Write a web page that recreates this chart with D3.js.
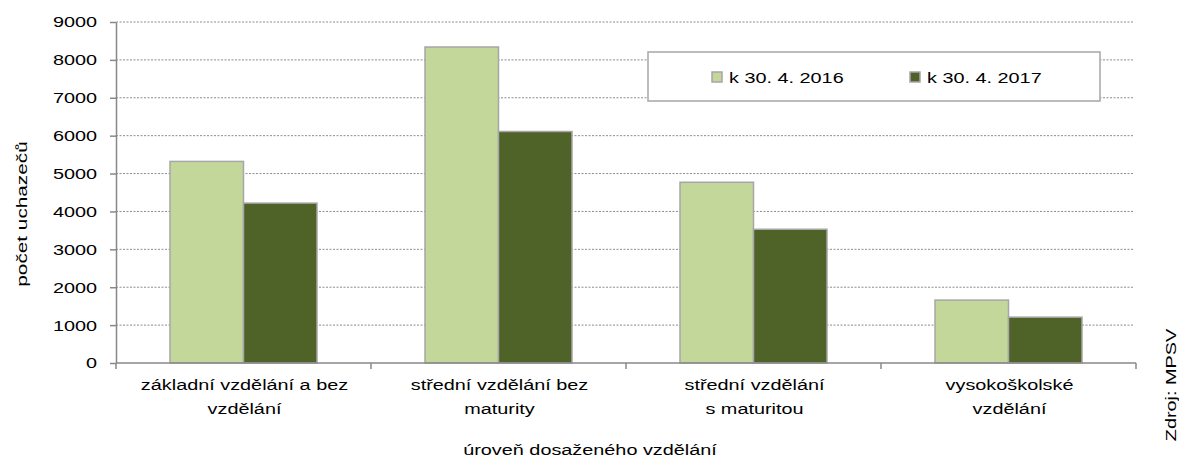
<!DOCTYPE html>
<html>
<head>
<meta charset="utf-8">
<script src="https://cdn.jsdelivr.net/npm/d3@7"></script>
<style>
body { margin: 0; background: #fff; }
text { font-family: "Liberation Sans", Arial, sans-serif; fill: #000; font-size: 15.5px; }
</style>
</head>
<body>
<div id="chart"></div>
<script>
const categories = [
  ["základní vzdělání a bez", "vzdělání"],
  ["střední vzdělání  bez", "maturity"],
  ["střední vzdělání", "s maturitou"],
  ["vysokoškolské", "vzdělání"]
];
const seriesNames = ["k 30. 4. 2016", "k 30. 4. 2017"];
const values2016 = [5320, 8340, 4770, 1660];
const values2017 = [4220, 6110, 3530, 1210];
const yTicks = [0, 1000, 2000, 3000, 4000, 5000, 6000, 7000, 8000, 9000];
const colors = ["#c4d79b", "#4f6228"];

// the source text is drawn wide, so stretch it horizontally
const sx = 1.28;

const margin = {top: 22, right: 43, bottom: 96, left: 116},
width = 1179 - margin.left - margin.right,
height = 459 - margin.top - margin.bottom;

const svg = d3.select("#chart")
.append("svg")
.attr("width", 1179)
.attr("height", 459)
.append("g")
.attr("transform", `translate(${margin.left},${margin.top})`);

const data = categories.map((c, i) => ({cat: i, vals: [values2016[i], values2017[i]]}));

// X axis
const x = d3.scaleBand()
  .domain(d3.range(categories.length))
  .range([0, width]);
const xs = d3.scaleBand()
  .domain([0, 1])
  .range([0, 147])
  .padding(0);

// Y axis
const y = d3.scaleLinear()
  .domain([0, 9000])
  .range([height, 0]);

// gridlines
svg.append("g")
  .selectAll("line")
  .data(yTicks.slice(1))
  .join("line")
    .attr("x1", 0)
    .attr("x2", width - 2)
    .attr("y1", d => y(d))
    .attr("y2", d => y(d))
    .attr("stroke", "#8c8c8c")
    .attr("stroke-width", 1)
    .attr("stroke-dasharray", "2,1.5");

// bars
const groups = svg.selectAll("g.grp")
  .data(data)
  .join("g")
  .attr("class", "grp")
  .attr("transform", d => `translate(${x(d.cat) + (x.bandwidth() - 147) / 2},0)`);
groups.selectAll("rect")
  .data(d => d.vals.map((v, k) => ({v, k})))
  .join("rect")
    .attr("x", d => xs(d.k))
    .attr("width", xs.bandwidth())
    .attr("y", d => y(d.v))
    .attr("height", d => height - y(d.v))
    .attr("fill", d => colors[d.k])
    .attr("stroke", "#a6a6a6")
    .attr("stroke-width", 1.5);

// left axis
const yAxis = svg.append("g")
  .call(d3.axisLeft(y).tickValues(yTicks).tickFormat(d3.format("d")).tickSize(6).tickSizeOuter(0).tickPadding(13));
yAxis.select(".domain").attr("stroke", "#888").attr("stroke-width", 1.5);
yAxis.selectAll(".tick line").attr("stroke", "#888").attr("stroke-width", 1.5);
yAxis.selectAll("text")
  .attr("font-family", "Liberation Sans, Arial, sans-serif")
  .attr("font-size", null)
  .attr("fill", "#000")
  .attr("x", -19 / sx)
  .attr("transform", `scale(${sx},1)`);

// bottom axis
const xAxis = svg.append("g")
  .attr("transform", `translate(0,${height})`);
xAxis.append("line")
  .attr("x1", 0).attr("x2", width)
  .attr("stroke", "#888").attr("stroke-width", 1.5);
xAxis.selectAll("line.tk")
  .data(d3.range(categories.length + 1))
  .join("line")
    .attr("class", "tk")
    .attr("x1", d => d === categories.length ? width : x(d))
    .attr("x2", d => d === categories.length ? width : x(d))
    .attr("y1", 0).attr("y2", 6)
    .attr("stroke", "#888").attr("stroke-width", 1.5);
const lbl = xAxis.selectAll("text.cat")
  .data(categories)
  .join("text")
    .attr("class", "cat")
    .attr("text-anchor", "middle")
    .attr("transform", (d, i) => `translate(${x(i) + x.bandwidth() / 2 + 1},27) scale(${sx},1)`);
lbl.selectAll("tspan")
  .data(d => d)
  .join("tspan")
    .attr("x", 0)
    .attr("dy", (d, i) => i === 0 ? 0 : 24)
    .text(d => d);

// axis titles
svg.append("text")
  .attr("text-anchor", "middle")
  .attr("transform", `translate(${590 - margin.left},${455 - margin.top}) scale(${sx},1)`)
  .text("úroveň dosaženého vzdělání");
svg.append("text")
  .attr("text-anchor", "middle")
  .attr("transform", `translate(${27 - margin.left},${214 - margin.top}) rotate(-90) scale(1.34,1)`)
  .text("počet uchazečů");
svg.append("text")
  .attr("text-anchor", "middle")
  .attr("transform", `translate(${1176 - margin.left},${385 - margin.top}) rotate(-90) scale(${sx},1)`)
  .text("Zdroj: MPSV");

// legend
const legend = svg.append("g")
  .attr("transform", `translate(${648 - margin.left},${52 - margin.top})`);
legend.append("rect")
  .attr("width", 452).attr("height", 49)
  .attr("fill", "#fff").attr("stroke", "#a6a6a6").attr("stroke-width", 1.5);
const items = legend.selectAll("g.item")
  .data(seriesNames)
  .join("g")
  .attr("class", "item")
  .attr("transform", (d, i) => `translate(${i === 0 ? 64 : 262},25)`);
items.append("rect")
  .attr("x", 0).attr("y", -5).attr("width", 10).attr("height", 10)
  .attr("fill", (d, i) => colors[i])
  .attr("stroke", "#a6a6a6").attr("stroke-width", 1.5);
items.append("text")
  .attr("transform", `translate(17,6) scale(${sx},1)`)
  .text(d => d);
</script>
</body>
</html>
